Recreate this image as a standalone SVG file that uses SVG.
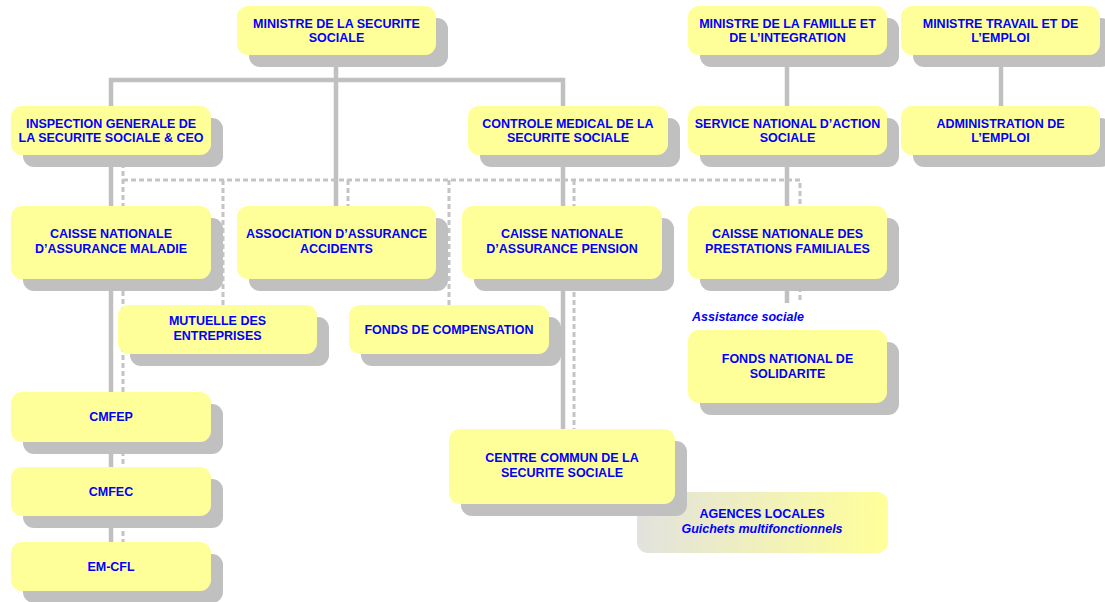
<svg xmlns="http://www.w3.org/2000/svg" width="1105" height="602" viewBox="0 0 1105 602">
<style>
.box{fill:#FFFF99}
.sh{fill:#C0C0C0}
.t{font-family:"Liberation Sans",Arial,sans-serif;font-weight:bold;font-size:12.5px;fill:#0000FF;text-anchor:middle}
.ti{font-family:"Liberation Sans",Arial,sans-serif;font-weight:bold;font-style:italic;font-size:12.5px;fill:#0000FF}
.solid{stroke:#C0C0C0;stroke-width:4.5;fill:none}
.dash{stroke:#C4C4C4;stroke-width:3;fill:none;stroke-dasharray:5 3}
</style>
<defs>
<linearGradient id="gAg" x1="0" y1="0" x2="1" y2="0">
<stop offset="0" stop-color="#E2E2DE"/>
<stop offset="1" stop-color="#FFFF99"/>
</linearGradient>
</defs>
<rect width="1105" height="602" fill="#FFFFFF"/>
<g id="connectors">
<path class="solid" d="M336 55V206"/>
<path class="solid" d="M111 106V80H563V106"/>
<path class="solid" d="M111 155V542"/>
<path class="solid" d="M563 155V429"/>
<path class="solid" d="M787 55V303"/>
<path class="solid" d="M1001 55V106"/>
<path class="dash" d="M123 155V542"/>
<path class="dash" d="M123 180H800V303"/>
<path class="dash" d="M223 180V305"/>
<path class="dash" d="M348 180V206"/>
<path class="dash" d="M449 180V305"/>
<path class="dash" d="M574 180V429"/>
</g>
<g id="min_secu"><rect class="sh" x="249" y="18" width="199" height="49" rx="11"/><rect class="box" x="237" y="6" width="199" height="49" rx="11"/><text class="t" x="336.5" y="28">MINISTRE DE LA SECURITE</text><text class="t" x="336.5" y="42">SOCIALE</text></g>
<g id="min_famille"><rect class="sh" x="700" y="18" width="199" height="49" rx="11"/><rect class="box" x="688" y="6" width="199" height="49" rx="11"/><text class="t" x="787.5" y="28">MINISTRE DE LA FAMILLE ET</text><text class="t" x="787.5" y="42">DE L’INTEGRATION</text></g>
<g id="min_travail"><rect class="sh" x="913" y="18" width="199" height="49" rx="11"/><rect class="box" x="901" y="6" width="199" height="49" rx="11"/><text class="t" x="1000.5" y="28">MINISTRE TRAVAIL ET DE</text><text class="t" x="1000.5" y="42">L’EMPLOI</text></g>
<g id="inspection"><rect class="sh" x="23" y="118" width="200" height="49" rx="11"/><rect class="box" x="11" y="106" width="200" height="49" rx="11"/><text class="t" x="111" y="127.5">INSPECTION GENERALE DE</text><text class="t" x="111" y="142">LA SECURITE SOCIALE &amp; CEO</text></g>
<g id="controle"><rect class="sh" x="480" y="118" width="200" height="49" rx="11"/><rect class="box" x="468" y="106" width="200" height="49" rx="11"/><text class="t" x="568" y="127.5">CONTROLE MEDICAL DE LA</text><text class="t" x="568" y="142">SECURITE SOCIALE</text></g>
<g id="service"><rect class="sh" x="700" y="118" width="199" height="49" rx="11"/><rect class="box" x="688" y="106" width="199" height="49" rx="11"/><text class="t" x="787.5" y="127.5">SERVICE NATIONAL D’ACTION</text><text class="t" x="787.5" y="142">SOCIALE</text></g>
<g id="admin_emploi"><rect class="sh" x="913" y="118" width="199" height="49" rx="11"/><rect class="box" x="901" y="106" width="199" height="49" rx="11"/><text class="t" x="1000.5" y="127.5">ADMINISTRATION DE</text><text class="t" x="1000.5" y="142">L’EMPLOI</text></g>
<g id="cnam"><rect class="sh" x="23" y="218" width="200" height="73" rx="11"/><rect class="box" x="11" y="206" width="200" height="73" rx="11"/><text class="t" x="111" y="238">CAISSE NATIONALE</text><text class="t" x="111" y="253">D’ASSURANCE MALADIE</text></g>
<g id="aaa"><rect class="sh" x="249" y="218" width="199" height="73" rx="11"/><rect class="box" x="237" y="206" width="199" height="73" rx="11"/><text class="t" x="336.5" y="238">ASSOCIATION D’ASSURANCE</text><text class="t" x="336.5" y="253">ACCIDENTS</text></g>
<g id="cnap"><rect class="sh" x="474" y="218" width="200" height="73" rx="11"/><rect class="box" x="462" y="206" width="200" height="73" rx="11"/><text class="t" x="562" y="238">CAISSE NATIONALE</text><text class="t" x="562" y="253">D’ASSURANCE PENSION</text></g>
<g id="cnpf"><rect class="sh" x="700" y="218" width="199" height="73" rx="11"/><rect class="box" x="688" y="206" width="199" height="73" rx="11"/><text class="t" x="787.5" y="238">CAISSE NATIONALE DES</text><text class="t" x="787.5" y="253">PRESTATIONS FAMILIALES</text></g>
<g id="mutuelle"><rect class="sh" x="130" y="317" width="199" height="49" rx="11"/><rect class="box" x="118" y="305" width="199" height="49" rx="11"/><text class="t" x="217.5" y="325">MUTUELLE DES</text><text class="t" x="217.5" y="340">ENTREPRISES</text></g>
<g id="fonds_comp"><rect class="sh" x="361" y="317" width="200" height="49" rx="11"/><rect class="box" x="349" y="305" width="200" height="49" rx="11"/><text class="t" x="449" y="334">FONDS DE COMPENSATION</text></g>
<g id="assistance_label"><text class="ti" x="692" y="321">Assistance sociale</text></g>
<g id="fns"><rect class="sh" x="700" y="342" width="199" height="73" rx="11"/><rect class="box" x="688" y="330" width="199" height="73" rx="11"/><text class="t" x="787.5" y="363">FONDS NATIONAL DE</text><text class="t" x="787.5" y="378">SOLIDARITE</text></g>
<g id="cmfep"><rect class="sh" x="23" y="404" width="200" height="50" rx="11"/><rect class="box" x="11" y="392" width="200" height="50" rx="11"/><text class="t" x="111" y="421">CMFEP</text></g>
<g id="cmfec"><rect class="sh" x="23" y="479" width="200" height="49" rx="11"/><rect class="box" x="11" y="467" width="200" height="49" rx="11"/><text class="t" x="111" y="496">CMFEC</text></g>
<g id="emcfl"><rect class="sh" x="23" y="554" width="200" height="49" rx="11"/><rect class="box" x="11" y="542" width="200" height="49" rx="11"/><text class="t" x="111" y="571">EM-CFL</text></g>
<g id="agences"><rect x="637" y="492" width="251" height="61" rx="11" fill="url(#gAg)"/><text class="t" x="762" y="518">AGENCES LOCALES</text><text class="ti" x="762" y="533" text-anchor="middle">Guichets multifonctionnels</text></g>
<g id="ccss"><rect class="sh" x="461" y="441" width="226" height="75" rx="11"/><rect class="box" x="449" y="429" width="226" height="75" rx="11"/><text class="t" x="562" y="462">CENTRE COMMUN DE LA</text><text class="t" x="562" y="477">SECURITE SOCIALE</text></g>
</svg>
